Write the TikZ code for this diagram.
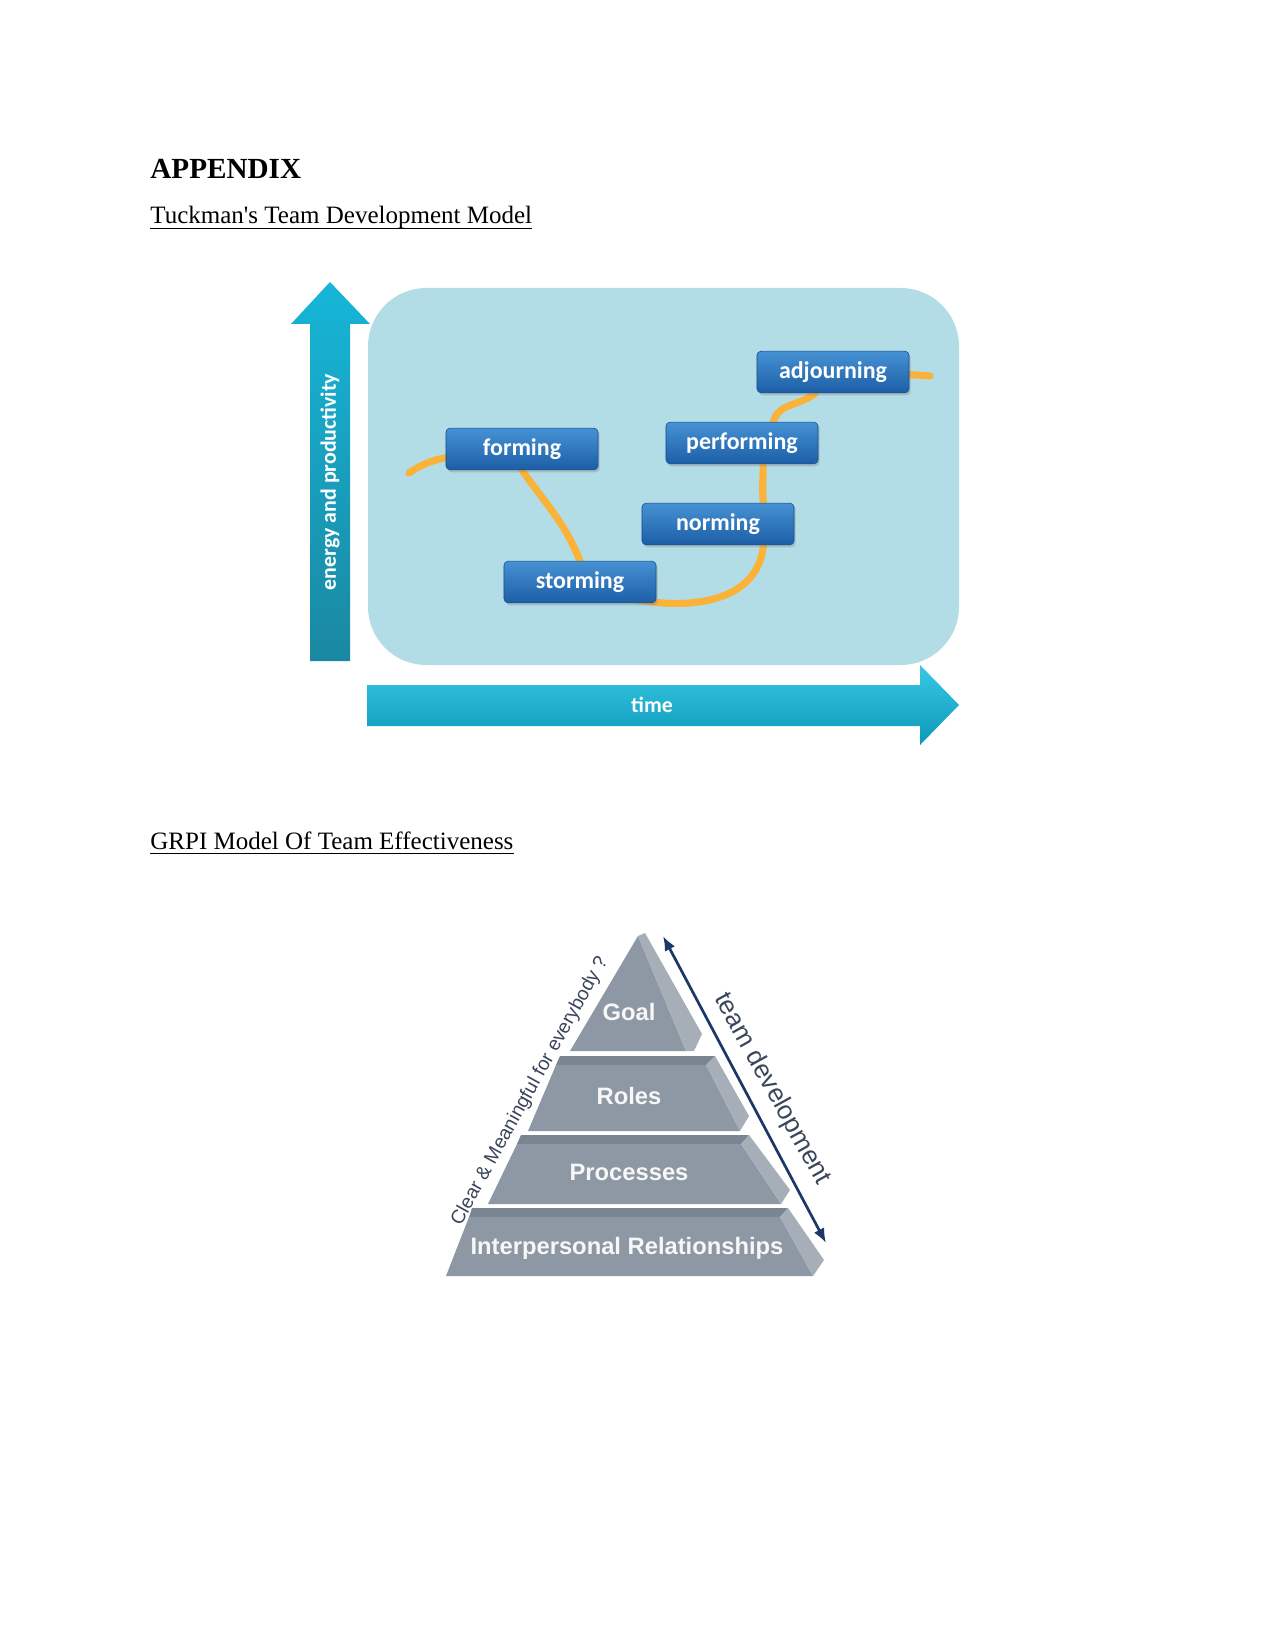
\documentclass[tikz,border=0pt]{standalone}
\usepackage{fontspec}
\setmainfont{Liberation Serif}[Ligatures=TeXOff]
\newfontfamily\calfont{Carlito}
\newfontfamily\arialfont{Liberation Sans}
\usetikzlibrary{arrows.meta,positioning,shadows}
\definecolor{panelblue}{RGB}{179,221,230}
\definecolor{stagetop}{RGB}{70,146,212}
\definecolor{stagebot}{RGB}{28,94,166}
\definecolor{trailorange}{RGB}{251,178,56}
\definecolor{axistop}{RGB}{22,182,216}
\definecolor{axisbot}{RGB}{26,136,162}
\definecolor{timetop}{RGB}{56,200,228}
\definecolor{timebot}{RGB}{12,152,186}
\definecolor{pyrface}{RGB}{141,152,164}
\definecolor{pyrtop}{RGB}{122,133,146}
\definecolor{pyrside}{RGB}{166,174,184}
\definecolor{slate}{RGB}{58,70,90}
\definecolor{navy}{RGB}{27,56,104}
\pgfdeclarelayer{panel}
\pgfdeclarelayer{trail}
\pgfsetlayers{panel,trail,main}
\begin{document}
\begin{tikzpicture}[x=0.48pt, y=0.48pt,
  heading/.style={anchor=base west, inner sep=0, font=\fontsize{12}{14}\selectfont},
  uline/.style={line width=0.6pt},
  stage/.style={rounded corners=2pt, top color=stagetop, bottom color=stagebot, draw=stagebot!85!black, line width=0.3pt, text=white, font=\calfont\bfseries\fontsize{11.5}{13}\selectfont, minimum width=73pt, minimum height=20pt, drop shadow={shadow xshift=0.8pt, shadow yshift=-1.2pt, opacity=0.35}},
  axislabel/.style={text=white, font=\calfont\bfseries\fontsize{10.5}{12}\selectfont, inner sep=0},
  trailline/.style={draw=trailorange, line width=3.4pt, line cap=round},
  layertext/.style={anchor=base, inner sep=0, text=white!94!gray, font=\arialfont\bfseries\fontsize{11.4}{13}\selectfont},
  devarrow/.style={{Latex[length=7pt,width=5.5pt]}-{Latex[length=7pt,width=5.5pt]}, line width=1.3pt, draw=navy}]
\begin{pgfonlayer}{panel}
\fill[white] (0,0) rectangle (1275,-1650);
\fill[panelblue, rounded corners=28pt] (368,-288) rectangle (959,-665);
\end{pgfonlayer}

% page headings
\node[heading, font=\bfseries\fontsize{14}{16}\selectfont] (appendix) at (150,-179) {APPENDIX};
\node[heading] (tuckman) at (150,-224) {Tuckman's Team Development Model};
\node[heading] (grpi) at (150,-849) {GRPI Model Of Team Effectiveness};
\draw[uline] ([yshift=-2.2pt]tuckman.base west) -- ([yshift=-2.2pt]tuckman.base east);
\draw[uline] ([yshift=-2.2pt]grpi.base west) -- ([yshift=-2.2pt]grpi.base east);

% axes of the Tuckman chart
\shade[top color=axistop, bottom color=axisbot] (310,-661) -- (310,-324) -- (291,-324) -- (330,-282) -- (370,-324) -- (350,-324) -- (350,-661) -- cycle;
\shade[top color=timetop, bottom color=timebot] (367,-685) -- (920,-685) -- (920,-665) -- (959,-705) -- (920,-745) -- (920,-726) -- (367,-726) -- cycle;
\node[axislabel, rotate=90] (energy) at (330,-482) {energy and productivity};
\node[axislabel] (timelabel) at (652,-705) {time};

% stages
\node[stage] (forming) at (522,-449) {forming};
\node[stage] (storming) at (580,-582) {storming};
\node[stage] (norming) at (718,-524) {norming};
\node[stage] (performing) at (742,-443) {performing};
\node[stage] (adjourning) at (833,-372) {adjourning};
\coordinate (trailbeg) at (409,-473);
\coordinate (trailend) at (930,-376);
\begin{pgfonlayer}{trail}
\draw[trailline] (trailbeg) to[out=35,in=195] (forming.center);
\draw[trailline] (forming.center) -- (forming.south) to[out=-55,in=112] (storming.north) -- (storming.center);
\draw[trailline] (storming.center) to[out=-25,in=-95] (norming.-25);
\draw[trailline] (norming.25) to[out=95,in=-90] (performing.-45);
\draw[trailline] (performing.34) to[out=75,in=-140] (adjourning.-130);
\draw[trailline] (adjourning.center) to[out=-5,in=175] (trailend);
\end{pgfonlayer}

% GRPI pyramid
\fill[pyrface] (570,-1051) -- (638,-936) -- (686,-1051) -- cycle;
\fill[pyrside] (638,-936) -- (645,-933) -- (702,-1034) -- (694,-1051) -- (686,-1051) -- cycle;
\fill[pyrtop] (560,-1056) -- (715,-1056) -- (706,-1065) -- (556,-1065) -- cycle;
\fill[pyrface] (556,-1065) -- (706,-1065) -- (740,-1131) -- (528,-1131) -- cycle;
\fill[pyrside] (715,-1056) -- (749,-1116) -- (740,-1131) -- (706,-1065) -- cycle;
\fill[pyrtop] (521,-1135) -- (749,-1135) -- (741,-1144) -- (517,-1144) -- cycle;
\fill[pyrface] (517,-1144) -- (741,-1144) -- (781,-1204) -- (488,-1204) -- cycle;
\fill[pyrside] (749,-1135) -- (790,-1190) -- (781,-1204) -- (741,-1144) -- cycle;
\fill[pyrtop] (472,-1208) -- (788,-1208) -- (780,-1217) -- (469,-1217) -- cycle;
\fill[pyrface] (469,-1217) -- (780,-1217) -- (813,-1276) -- (446,-1276) -- cycle;
\fill[pyrside] (788,-1208) -- (824,-1260) -- (813,-1276) -- (780,-1217) -- cycle;
\node[layertext] (goal) at (629,-1020) {Goal};
\node[layertext] (roles) at (629,-1104) {Roles};
\node[layertext] (processes) at (629,-1180) {Processes};
\node[layertext] (relations) at (627,-1254) {Interpersonal Relationships};
\node[rotate=61, text=slate, inner sep=0, font=\arialfont\fontsize{9.3}{11}\selectfont] (clear) at (530,-1091) {Clear \& Meaningful for everybody ?};
\coordinate (tdtop) at (663,-936);
\coordinate (tdbot) at (826,-1243);
\draw[devarrow] (tdtop) -- (tdbot);
\node[rotate=-61, text=slate, inner sep=0, font=\arialfont\fontsize{12.5}{14}\selectfont] (teamdev) at (772,-1089) {team development};
\end{tikzpicture}
\end{document}
